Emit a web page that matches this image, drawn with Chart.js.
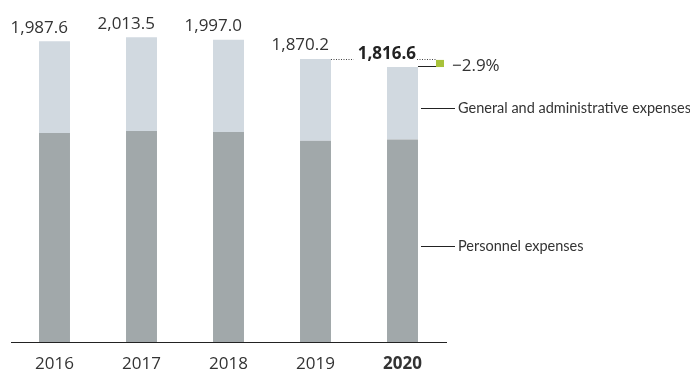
<!DOCTYPE html>
<html>
<head>
<meta charset="utf-8">
<script src="https://cdn.jsdelivr.net/npm/chart.js@4"></script>
<style>
  html, body { margin: 0; padding: 0; background: #fff; }
  #wrap { width: 690px; height: 370px; position: relative; }
</style>
</head>
<body>
<div id="wrap"><canvas id="costs"></canvas></div>
<script>
// Operating expenses, EUR million
const years = ['2016', '2017', '2018', '2019', '2020'];
const personnel = [1381.4, 1394.8, 1388.1, 1328.9, 1337.7];
const adminExpenses = [606.2, 618.7, 608.9, 541.3, 478.9];
const seriesNames = ['Personnel expenses', 'General and administrative expenses'];

const FONT = "'Open Sans', 'Noto Sans', sans-serif";
const SERIES_FONT = "Lato, 'Open Sans', sans-serif";
const TEXT = '#333';

const fmt = v => v.toLocaleString('en-US', { minimumFractionDigits: 1, maximumFractionDigits: 1 });

// totals, change labels and leader lines drawn on top of the bars
const annotations = {
  id: 'annotations',
  afterDatasetsDraw(chart) {
    const ctx = chart.ctx;
    const lower = chart.getDatasetMeta(0).data;
    const upper = chart.getDatasetMeta(1).data;
    const last = years.length - 1;
    const totals = years.map((y, i) => personnel[i] + adminExpenses[i]);

    ctx.save();
    ctx.fillStyle = TEXT;
    ctx.textBaseline = 'alphabetic';
    ctx.textAlign = 'right';

    upper.forEach((bar, i) => {
      const right = bar.x + bar.width / 2;
      ctx.font = (i === last ? 'bold ' : '') + '17px ' + FONT;
      ctx.fillStyle = i === last ? '#222' : TEXT;
      ctx.fillText(fmt(totals[i]), right - 2, bar.y - 8.5);
    });

    // change vs. previous year
    const prev = upper[last - 1];
    const cur = upper[last];
    const curRight = cur.x + cur.width / 2;
    ctx.font = 'bold 17px ' + FONT;
    const labelW = ctx.measureText(fmt(totals[last])).width;
    const labelL = curRight - 2 - labelW;
    const markX = curRight + 18;

    ctx.strokeStyle = '#444';
    ctx.lineWidth = 1;
    ctx.setLineDash([1, 1.5]);
    ctx.beginPath();
    ctx.moveTo(prev.x + prev.width / 2, Math.round(prev.y) + 0.5);
    ctx.lineTo(labelL - 4, Math.round(prev.y) + 0.5);
    ctx.moveTo(curRight - 1, Math.round(prev.y) + 0.5);
    ctx.lineTo(markX, Math.round(prev.y) + 0.5);
    ctx.stroke();
    ctx.setLineDash([]);

    ctx.strokeStyle = '#222';
    ctx.beginPath();
    ctx.moveTo(curRight, Math.round(cur.y) - 0.5);
    ctx.lineTo(markX + 8, Math.round(cur.y) - 0.5);
    ctx.stroke();

    ctx.fillStyle = '#a8c23a';
    ctx.fillRect(markX, prev.y + 1, 8, cur.y - prev.y - 1);

    const change = (totals[last] / totals[last - 1] - 1) * 100;
    ctx.fillStyle = TEXT;
    ctx.font = '17px ' + FONT;
    ctx.textAlign = 'left';
    ctx.textBaseline = 'middle';
    ctx.fillText('\u2212' + Math.abs(change).toFixed(1) + '%', markX + 16, cur.y - 1);

    // series names with leader lines
    ctx.font = '14.5px ' + SERIES_FONT;
    [lower[last], upper[last]].forEach((bar, k) => {
      const mid = (bar.y + bar.base) / 2 + 5;
      const y = Math.round(mid) + 0.5;
      ctx.strokeStyle = '#222';
      ctx.beginPath();
      ctx.moveTo(curRight + 3, y);
      ctx.lineTo(curRight + 37, y);
      ctx.stroke();
      ctx.fillText(seriesNames[k], curRight + 40, y);
    });
    ctx.restore();
  }
};

new Chart(document.getElementById('costs'), {
  type: 'bar',
  data: {
    labels: years,
    datasets: [
      { label: seriesNames[0], data: personnel, backgroundColor: '#a1a8aa' },
      { label: seriesNames[1], data: adminExpenses, backgroundColor: '#d1d9e0' }
    ]
  },
  options: {
    responsive: true,
    maintainAspectRatio: false,
    animation: false,
    layout: { padding: { left: 11, right: 244, top: 9, bottom: 0 } },
    datasets: { bar: { categoryPercentage: 1, barPercentage: 0.356 } },
    plugins: { legend: { display: false }, tooltip: { enabled: false } },
    scales: {
      x: {
        stacked: true,
        grid: { display: false },
        border: { display: true, color: '#222', width: 1 },
        afterFit(scale) { scale.height = 28; },
        ticks: {
          padding: 6,
          color: TEXT,
          font: ctx => ({
            family: FONT,
            size: 17,
            lineHeight: 1,
            weight: ctx.index === years.length - 1 ? 'bold' : 'normal'
          })
        }
      },
      y: { stacked: true, display: false, min: 0, max: 2200 }
    }
  },
  plugins: [annotations]
});
</script>
</body>
</html>
